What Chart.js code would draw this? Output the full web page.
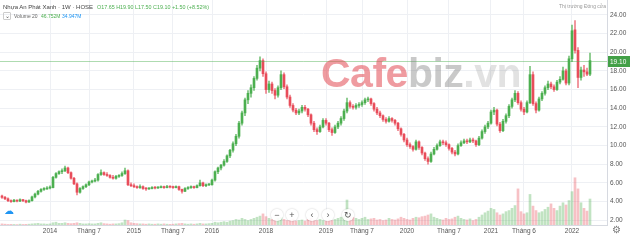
<!DOCTYPE html>
<html lang="vi">
<head>
<meta charset="UTF-8">
<title>Nhựa An Phát Xanh 1W</title>
<script src="https://cdn.jsdelivr.net/npm/chart.js"></script>
<style>
  body { margin: 0; background: #fff; font-family: 'Liberation Sans', Arial, sans-serif; }
  #wrap { position: relative; width: 630px; height: 243px; overflow: hidden; }
  #c { position: absolute; left: 0; top: 0; }
  .t { position: absolute; white-space: nowrap; line-height: 8px; }
  .btn { position: absolute; width: 12px; height: 12px; border-radius: 50%; background: rgba(255,255,255,0.9);
         box-shadow: 0 0 2px rgba(0,0,0,0.25); font-size: 9px; line-height: 12px; text-align: center; color: #555; }
  #wm { position: absolute; left: 321px; top: 53px; font-size: 41px; line-height: 40px; font-weight: bold;
        letter-spacing: -0.5px; white-space: nowrap; pointer-events: none; }
</style>
</head>
<body>
<div id="wrap">
  <canvas id="c" width="630" height="243"></canvas>

  <!-- legend on top of the chart, like tradingview -->
  <div class="t" style="left:3px;top:3px;font-size:6px;color:#444">Nhựa An Phát Xanh · 1W · HOSE</div>
  <div class="t" style="left:97px;top:3px;font-size:5.4px;color:#4caf50">O17.65 H19.90 L17.50 C19.10 +1.50 (+8.52%)</div>
  <div class="t" style="left:3px;top:12px;width:6px;height:6px;border:1px solid #ccc;border-radius:1px;font-size:6px;line-height:6px;text-align:center;color:#555">⌄</div>
  <div class="t" style="left:14px;top:12px;font-size:5px;color:#666">Volume 20</div>
  <div class="t" style="left:41px;top:12px;font-size:5px;color:#4caf50">46.752M</div>
  <div class="t" style="left:62px;top:12px;font-size:5px;color:#2196f3">34.947M</div>
  <div class="t" style="left:559px;top:2px;font-size:5px;color:#999">Thị trường Đóng cửa</div>

  <div id="wm"><span style="color:rgba(226,72,82,0.55)">Cafe</span><span style="color:rgba(120,120,120,0.4)">biz</span><span style="color:rgba(150,150,150,0.28)">.vn</span></div>

  <div class="t" style="left:4px;top:207px;font-size:10px;color:#2196f3">☁</div>
  <div class="btn" style="left:271px;top:209px">−</div>
  <div class="btn" style="left:286px;top:209px">+</div>
  <div class="btn" style="left:306px;top:209px">‹</div>
  <div class="btn" style="left:322px;top:209px">›</div>
  <div class="btn" style="left:342px;top:209px">↻</div>
  <div class="t" style="left:612px;top:226px;font-size:10px;color:#777">⚙</div>
</div>

<script>
// weekly candles (price in thousand VND, volume in millions)
const opens = [
  4.6,4.45,4.3,4.1,4.0,4.15,4.05,4.2,4.1,3.95,
  4.1,4.5,4.8,5.1,5.3,5.35,5.45,5.5,6.6,7.0,
  7.2,7.3,7.6,7.1,6.5,5.9,5.0,5.4,5.6,5.8,
  6.1,6.2,6.3,6.9,7.1,6.9,6.8,6.6,6.5,6.7,
  6.8,7.0,7.3,5.8,5.7,5.6,5.5,5.6,5.4,5.35,
  5.4,5.5,5.45,5.5,5.55,5.5,5.6,5.55,5.5,5.6,
  5.3,5.1,5.4,5.5,5.6,5.5,5.7,6.0,5.7,5.8,
  5.8,6.3,7.2,7.6,7.9,8.3,8.9,9.5,10.2,11.0,
  12.4,13.5,14.9,15.6,16.2,17.2,18.3,19.1,17.7,16.0,
  16.6,15.9,15.4,16.2,17.6,16.3,15.2,14.3,13.8,13.5,
  13.7,14.1,13.9,13.3,12.4,11.7,11.5,12.0,12.7,12.4,
  11.7,11.4,12.0,12.4,12.9,13.7,14.6,14.2,14.1,14.3,
  14.4,14.6,14.9,15.0,14.5,13.9,13.5,13.2,12.8,12.6,
  12.9,12.7,12.4,11.8,11.2,10.6,10.1,9.9,9.6,10.4,
  9.8,9.2,8.6,8.3,9.1,9.6,10.0,10.4,10.3,10.1,
  9.7,9.3,9.1,10.0,10.3,10.5,10.4,10.6,10.5,10.1,
  10.8,11.5,12.0,12.4,13.6,13.8,12.3,11.6,12.6,13.2,
  14.2,14.9,15.6,14.6,13.9,13.6,14.6,17.6,14.5,13.8,
  15.0,15.6,16.2,16.6,16.3,16.0,16.8,17.1,18.0,16.7,
  19.3,22.4,20.2,17.3,18.1,17.9,17.65
];
const highs = [
  4.7,4.55,4.4,4.2,4.25,4.2,4.3,4.25,4.15,4.2,
  4.6,4.9,5.2,5.4,5.5,5.6,5.7,6.7,7.1,7.3,
  7.5,7.8,7.7,7.2,6.6,6.0,5.5,5.7,5.9,6.2,
  6.3,6.5,7.0,7.4,7.2,7.1,6.9,6.8,6.8,6.9,
  7.2,7.6,7.4,6.0,5.9,5.7,5.8,5.7,5.5,5.5,
  5.6,5.6,5.6,5.7,5.65,5.75,5.7,5.65,5.7,5.65,
  5.35,5.5,5.6,5.7,5.65,5.8,6.3,6.1,5.9,5.9,
  6.4,7.3,7.7,8.0,8.5,9.0,9.6,10.4,11.2,12.6,
  13.7,15.1,15.9,16.5,17.4,18.6,19.5,19.3,17.9,16.9,
  16.8,16.1,16.4,18.0,17.8,16.5,15.4,14.5,14.0,13.9,
  14.3,14.3,14.0,13.4,12.6,11.9,12.2,12.9,12.9,12.5,
  11.9,12.2,12.6,13.1,13.9,15.1,14.8,14.4,14.5,14.6,
  14.8,15.1,15.2,15.1,14.6,14.1,13.7,13.3,13.0,13.1,
  13.0,12.8,12.5,11.9,11.3,10.8,10.3,10.0,10.6,10.5,
  9.9,9.3,8.8,9.3,9.8,10.2,10.6,10.6,10.5,10.2,
  9.8,9.5,10.2,10.5,10.7,10.7,10.8,10.8,10.6,11.0,
  11.7,12.2,12.6,13.8,14.1,13.9,12.5,12.8,13.4,14.4,
  15.1,15.9,15.8,14.8,14.1,14.8,18.5,17.9,14.7,15.2,
  15.8,16.4,16.9,16.8,16.5,17.0,17.4,18.4,18.2,19.6,
  22.9,23.4,20.5,18.4,18.6,18.3,19.9
];
const lows = [
  4.35,4.2,4.0,3.9,3.95,3.95,4.0,4.0,3.85,3.9,
  4.05,4.4,4.7,5.0,5.2,5.3,5.35,5.45,6.5,6.9,
  7.0,7.2,7.0,6.4,5.8,4.7,4.9,5.3,5.5,5.7,
  6.0,6.1,6.2,6.8,6.8,6.7,6.5,6.4,6.4,6.6,
  6.7,6.9,5.7,5.6,5.5,5.4,5.4,5.3,5.2,5.3,
  5.35,5.35,5.4,5.45,5.4,5.45,5.45,5.4,5.45,5.2,
  4.9,5.05,5.3,5.4,5.4,5.45,5.65,5.6,5.6,5.7,
  5.75,6.2,7.0,7.4,7.8,8.2,8.7,9.3,10.0,10.8,
  12.2,13.2,14.5,15.2,15.9,17.0,18.0,17.4,15.6,15.7,
  15.6,15.0,15.2,16.0,16.1,15.0,14.1,13.6,13.3,13.3,
  13.5,13.7,13.1,12.2,11.5,11.2,11.4,11.9,12.2,11.5,
  11.1,11.3,11.8,12.2,12.7,13.5,14.0,13.9,13.9,14.1,
  14.2,14.4,14.7,14.3,13.7,13.3,13.0,12.6,12.4,12.5,
  12.5,12.2,11.6,11.0,10.4,9.9,9.7,9.4,9.5,9.6,
  9.0,8.4,8.0,8.2,9.0,9.5,9.9,10.1,9.9,9.5,
  9.1,8.9,9.0,9.9,10.2,10.2,10.3,10.3,9.9,10.0,
  10.7,11.3,11.8,12.3,13.3,12.1,11.4,11.5,12.4,13.0,
  14.0,14.7,14.4,13.7,13.3,13.5,14.5,14.3,13.5,13.7,
  14.8,15.4,16.0,16.1,15.8,15.9,16.6,17.0,16.5,16.5,
  19.0,19.9,16.2,17.0,17.4,17.5,17.5
];
const closes = [
  4.45,4.3,4.1,4.0,4.15,4.05,4.2,4.1,3.95,4.1,
  4.5,4.8,5.1,5.3,5.35,5.45,5.5,6.6,7.0,7.2,
  7.3,7.6,7.1,6.5,5.9,5.0,5.4,5.6,5.8,6.1,
  6.2,6.3,6.9,7.1,6.9,6.8,6.6,6.5,6.7,6.8,
  7.0,7.3,5.8,5.7,5.6,5.5,5.6,5.4,5.35,5.4,
  5.5,5.45,5.5,5.55,5.5,5.6,5.55,5.5,5.6,5.3,
  5.1,5.4,5.5,5.6,5.5,5.7,6.0,5.7,5.8,5.8,
  6.3,7.2,7.6,7.9,8.3,8.9,9.5,10.2,11.0,12.4,
  13.5,14.9,15.6,16.2,17.2,18.3,19.1,17.7,16.0,16.6,
  15.9,15.4,16.2,17.6,16.3,15.2,14.3,13.8,13.5,13.7,
  14.1,13.9,13.3,12.4,11.7,11.5,12.0,12.7,12.4,11.7,
  11.4,12.0,12.4,12.9,13.7,14.6,14.2,14.1,14.3,14.4,
  14.6,14.9,15.0,14.5,13.9,13.5,13.2,12.8,12.6,12.9,
  12.7,12.4,11.8,11.2,10.6,10.1,9.9,9.6,10.4,9.8,
  9.2,8.6,8.3,9.1,9.6,10.0,10.4,10.3,10.1,9.7,
  9.3,9.1,10.0,10.3,10.5,10.4,10.6,10.5,10.1,10.8,
  11.5,12.0,12.4,13.6,13.8,12.3,11.6,12.6,13.2,14.2,
  14.9,15.6,14.6,13.9,13.6,14.6,17.6,14.5,13.8,15.0,
  15.6,16.2,16.6,16.3,16.0,16.8,17.1,18.0,16.7,19.3,
  22.3,20.2,17.3,18.1,17.9,17.65,19.1
];
const volumes = [
  2,1.5,1,1.2,1,0.8,1.5,1,1.2,1.5,
  2,2.5,3,2,2,1.5,2,4,5,3,
  3,4,3,2.5,3,4,3,2,2,2.5,
  2,2,3,4,2.5,2,1.5,2,2,2.5,
  4,9,8,4,3,2.5,2,2,1.5,2,
  1.5,1.5,2,1.5,2,1.5,1.2,1.5,2,2.5,
  3,2,1.5,2,1.5,2,3,2,2,2.5,
  3,5,4,5,6,5,7,8,10,9,
  12,10,8,10,12,14,16,20,15,12,
  10,9,12,14,10,8,9,11,7,8,
  9,7,10,12,9,8,10,8,7,9,
  8,10,12,14,18,45,16,14,12,10,
  12,14,10,11,12,9,10,8,9,12,
  10,9,11,14,12,10,9,12,14,13,
  15,16,18,20,14,12,10,9,12,10,
  11,14,16,12,10,9,11,8,10,14,
  18,22,25,30,28,22,18,20,24,26,
  30,35,65,24,20,22,55,34,26,22,
  24,28,32,38,30,26,34,40,36,44,
  60,85,65,40,30,25,46.75
];
// time axis labels (bar index where they sit)
const timeTickIdx = [16, 29, 44, 57, 70, 88, 108, 120, 135, 149, 163, 174, 190];
const timeTickText = ['2014', 'Tháng 7', '2015', 'Tháng 7', '2016', '2018', '2019', 'Tháng 7', '2020', 'Tháng 7', '2021', 'Tháng 6', '2022'];
const priceTicks = [2, 4, 6, 8, 10, 12, 14, 16, 18, 20, 22, 24];

const UP = '#4caf50', DOWN = '#e84c5a';
const isUp = closes.map((c, i) => c >= opens[i]);
const candleColor = isUp.map(u => u ? UP : DOWN);
const wickColor = isUp.map(u => u ? 'rgba(76,175,80,0.75)' : 'rgba(232,76,90,0.7)');
const volColor = isUp.map(u => u ? 'rgba(76,175,80,0.35)' : 'rgba(232,76,90,0.35)');

const lastPrice = {
    id: 'lastPrice',
    afterDatasetsDraw(chart) {
        const { ctx, chartArea, scales } = chart;
        const last = closes[closes.length - 1];
        const y = Math.round(scales.y.getPixelForValue(last)) + 0.5;
        ctx.save();
        ctx.strokeStyle = 'rgba(76,175,80,0.45)';
        ctx.lineWidth = 1;
        ctx.beginPath();
        ctx.moveTo(chartArea.left, y);
        ctx.lineTo(chartArea.right, y);
        ctx.stroke();
        ctx.fillStyle = '#43a047';
        ctx.fillRect(chartArea.right + 1, y - 5.5, 22, 11);
        ctx.fillStyle = '#fff';
        ctx.font = "6.5px 'Liberation Sans'";
        ctx.textBaseline = 'middle';
        ctx.fillText(last.toFixed(2), chartArea.right + 3, y + 0.5);
        ctx.restore();
    }
};

Chart.defaults.font.family = "'Liberation Sans', Arial, sans-serif";

new Chart(document.getElementById('c'), {
    type: 'bar',
    data: {
        datasets: [
            {
                label: 'body',
                data: closes.map((c, i) => ({ x: i, y: [opens[i], c] })),
                backgroundColor: candleColor,
                barThickness: 2,
                minBarLength: 1,
                grouped: false,
                order: 1
            },
            {
                label: 'wick',
                data: closes.map((c, i) => ({ x: i, y: [lows[i], highs[i]] })),
                backgroundColor: wickColor,
                barThickness: 1,
                grouped: false,
                order: 2
            },
            {
                label: 'Volume',
                data: volumes.map((v, i) => ({ x: i, y: v })),
                backgroundColor: volColor,
                barThickness: 2,
                grouped: false,
                yAxisID: 'yv',
                order: 3
            }
        ]
    },
    options: {
        responsive: false,
        devicePixelRatio: 1,
        animation: false,
        layout: { padding: 0 },
        plugins: { legend: { display: false }, tooltip: { enabled: false } },
        scales: {
            x: {
                type: 'linear',
                offset: false,
                min: -2 / 3,
                max: 607 / 3 - 2 / 3,
                afterBuildTicks: s => { s.ticks = timeTickIdx.map(v => ({ value: v })); },
                afterFit: s => { s.height = 18; s.paddingLeft = 0; s.paddingRight = 0; },
                ticks: {
                    autoSkip: false, maxRotation: 0, padding: 2,
                    font: { size: 6.5 }, color: '#555',
                    callback: (v, i) => timeTickText[i]
                },
                grid: { color: '#eef0f4', drawTicks: false, offset: false },
                border: { display: true, color: '#d6d9e0' }
            },
            y: {
                position: 'right',
                min: 1.49,
                max: 25.6,
                afterBuildTicks: s => { s.ticks = priceTicks.map(v => ({ value: v })); },
                afterFit: s => { s.width = 23; s.paddingTop = 0; s.paddingBottom = 0; },
                ticks: {
                    padding: 3, font: { size: 6.5 }, color: '#555',
                    callback: v => v.toFixed(2)
                },
                grid: { color: '#eef0f4', drawTicks: false },
                border: { display: true, color: '#d6d9e0' }
            },
            yv: {
                display: false,
                min: 0,
                max: 405
            }
        }
    },
    plugins: [lastPrice]
});
</script>
</body>
</html>
